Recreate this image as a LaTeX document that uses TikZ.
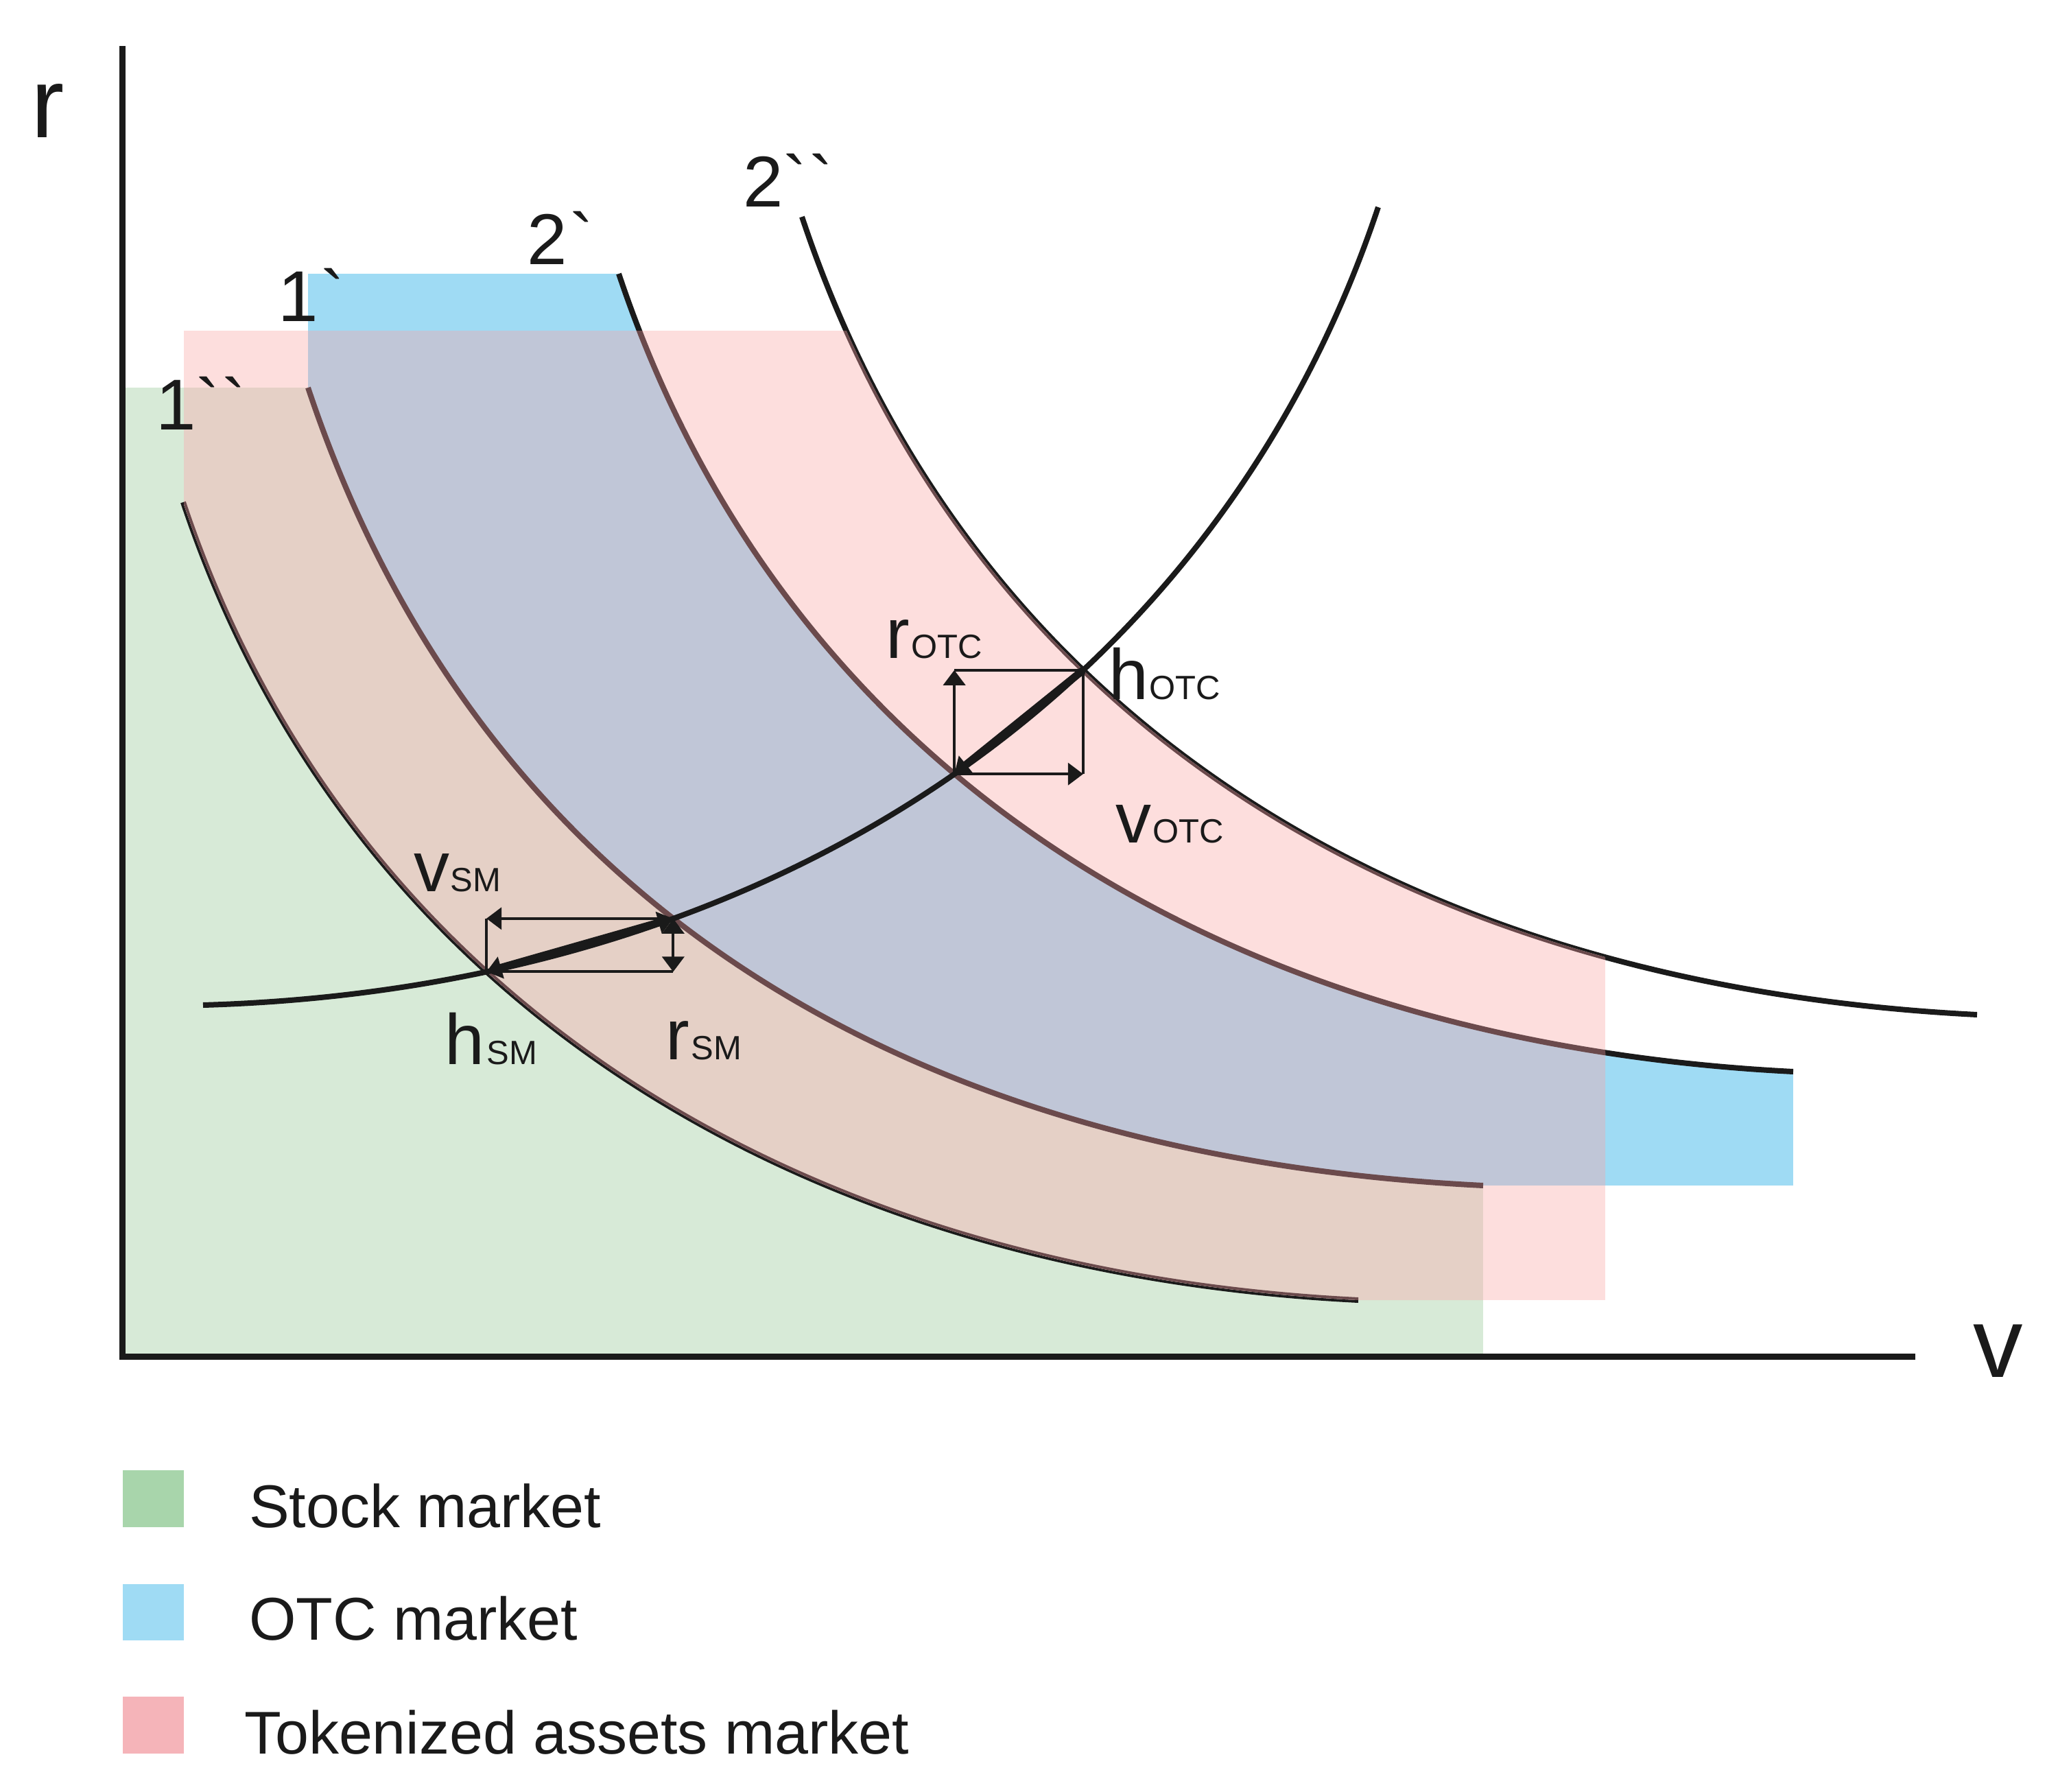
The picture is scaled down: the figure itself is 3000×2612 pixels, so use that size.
\documentclass[tikz,border=0pt]{standalone}
\usepackage{fontspec}
\setmainfont{Liberation Sans}[Ligatures=TeXOff]
\usetikzlibrary{arrows.meta,intersections}

\definecolor{ink}{HTML}{1A1A1A}
\definecolor{brownline}{HTML}{6B4A4C}
\definecolor{greenfill}{HTML}{D7EAD7}
\definecolor{bluefill}{HTML}{9FDBF4}
\definecolor{pinkfill}{HTML}{FDDEDD}
\definecolor{greenpink}{HTML}{E5D0C6}
\definecolor{bluepink}{HTML}{C0C6D7}
\definecolor{legendgreen}{HTML}{A8D5AB}
\definecolor{legendblue}{HTML}{9FDBF4}
\definecolor{legendpink}{HTML}{F5B4B9}

% indifference curves 1``, 1`, 2`, 2``
\def\cA{(267,732) .. controls (499,1427) and (1124,1852) .. (1980,1895)}
\def\cB{(449,565) .. controls (688,1282) and (1279,1684) .. (2162,1728)}
\def\cC{(902,399) .. controls (1136,1100) and (1751,1518) .. (2614,1562)}
\def\cD{(1169,316) .. controls (1404,1022) and (2013,1435) .. (2882,1479)}

\newcommand\mainsz{\fontsize{10.4}{12}\selectfont}
\newcommand\subsz{\fontsize{4.9}{6}\selectfont}
\newcommand\digsz{\fontsize{10.5}{12}\selectfont}
\newcommand\axsz{\fontsize{14.5}{16}\selectfont}
\newcommand\legsz{\fontsize{8.8}{10}\selectfont}

\begin{document}
\begin{tikzpicture}[x=0.1pt,y=-0.1pt,
  >={Triangle[length=2.2pt,width=3.2pt]},
  curve/.style={line width=0.8pt, draw=ink},
  boxline/.style={line width=0.4pt, draw=ink},
  thickseg/.style={line width=1.1pt, draw=ink},
  axisline/.style={line width=0.9pt, draw=ink},
  lab/.style={inner sep=0pt, anchor=base west, text=ink}]

\fill[white] (0,0) rectangle (3000,2612);
\useasboundingbox (0,0) rectangle (3000,2612);

% stock market region
\begin{scope}
  \clip (178,565) rectangle (2162,1977);
  \clip (-100,565) -- \cB -- (3100,1728) -- (3100,3100) -- (-100,3100) -- cycle;
  \fill[greenfill] (178,565) rectangle (2162,1977);
\end{scope}

% OTC market region
\begin{scope}
  \clip (449,399) rectangle (2614,1728);
  \clip \cB -- (3100,1728) -- (3100,-100) -- (449,-100) -- cycle;
  \clip (-100,399) -- \cC -- (3100,1562) -- (3100,3100) -- (-100,3100) -- cycle;
  \fill[bluefill] (449,399) rectangle (2614,1728);
\end{scope}

% indifference curves
\draw[curve, name path=A] \cA;
\draw[curve, name path=B] \cB;
\draw[curve, name path=C] \cC;
\draw[curve, name path=D] \cD;

% tokenized assets market region (over the others)
\begin{scope}
  \clip (268,482) rectangle (2340,1895);
  \clip \cA -- (3100,1895) -- (3100,-100) -- (267,-100) -- cycle;
  \clip (-100,316) -- \cD -- (3100,1479) -- (3100,3100) -- (-100,3100) -- cycle;
  \fill[pinkfill] (268,482) rectangle (2340,1895);
  \begin{scope}
    \clip (-100,565) -- \cB -- (3100,1728) -- (3100,3100) -- (-100,3100) -- cycle;
    \fill[greenpink] (178,565) rectangle (2162,1977);
  \end{scope}
  \begin{scope}
    \clip (449,399) rectangle (2614,1728);
    \clip \cB -- (3100,1728) -- (3100,-100) -- (449,-100) -- cycle;
    \clip (-100,399) -- \cC -- (3100,1562) -- (3100,3100) -- (-100,3100) -- cycle;
    \fill[bluepink] (449,399) rectangle (2614,1728);
  \end{scope}
  \draw[curve, draw=brownline] \cA;
  \draw[curve, draw=brownline] \cB;
  \draw[curve, draw=brownline] \cC;
  \draw[curve, draw=brownline] \cD;
\end{scope}

% supply curve
\draw[curve, name path=S] (296,1465) .. controls (1145,1440) and (1779,992) .. (2009,302);

\path[name intersections={of=S and A, by={hSM}}];
\path[name intersections={of=S and B, by={SMup}}];
\path[name intersections={of=S and C, by={OTClo}}];
\path[name intersections={of=S and D, by={hOTC}}];

% OTC box
\draw[boxline, ->] (OTClo) -- (OTClo |- hOTC);
\draw[boxline] (OTClo |- hOTC) -- (hOTC);
\draw[boxline] (hOTC) -- (hOTC |- OTClo);
\draw[boxline, ->] (OTClo) -- (hOTC |- OTClo);
\draw[thickseg, ->] (hOTC) -- (OTClo);

% SM box
\draw[boxline, ->] (SMup) -- (hSM |- SMup);
\draw[boxline] (hSM |- SMup) -- (hSM);
\draw[boxline, <->] (SMup) -- (SMup |- hSM);
\draw[boxline] (SMup |- hSM) -- (hSM);
\draw[thickseg, <->] (hSM) -- (SMup);

% axes
\draw[axisline] (178,67) -- (178,1977) -- (2792,1977);

% labels
\node[lab] (rax) at (44,201) {\axsz r};
\node[lab] (vax) at (2874,2007) {\axsz v};
\node[lab] (l1b) at (225,627) {\digsz 1\char96\kern0.3pt\char96};
\node[lab] (l1a) at (404,468) {\digsz 1\kern0.3pt\char96};
\node[lab] (l2a) at (767,385) {\digsz 2\kern0.3pt\char96};
\node[lab] (l2b) at (1081,301) {\digsz 2\char96\kern0.3pt\char96};

\node[lab] (rOTC) at (1289,959) {\mainsz r\kern0.3pt\subsz OTC};
\node[lab] (hOTCl) at (1614,1019) {\mainsz h\kern0.2pt\subsz OTC};
\node[lab] (vOTC) at (1624,1228) {\mainsz v\kern0.2pt\subsz OTC};
\node[lab] (vSM) at (601,1299) {\mainsz v\kern0.2pt\subsz SM};
\node[lab] (hSMl) at (647,1551) {\mainsz h\kern0.3pt\subsz SM};
\node[lab] (rSM) at (968,1544) {\mainsz r\kern0.3pt\subsz SM};

% legend
\fill[legendgreen] (179,2143) rectangle (268,2226);
\fill[legendblue] (179,2309) rectangle (268,2391);
\fill[legendpink] (179,2473) rectangle (268,2556);
\node[lab] (lg1) at (361,2226) {\legsz Stock market};
\node[lab] (lg2) at (361,2390) {\legsz OTC market};
\node[lab] (lg3) at (355,2556) {\legsz Tokenized assets market};

\end{tikzpicture}
\end{document}
